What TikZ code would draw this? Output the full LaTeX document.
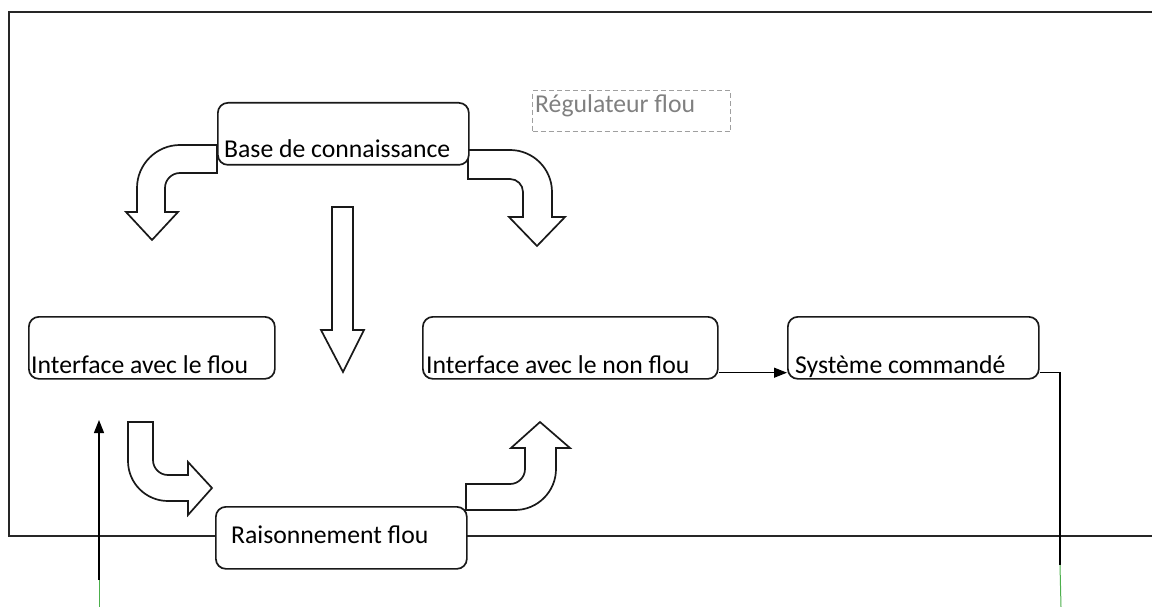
\documentclass[tikz,border=0pt]{standalone}
\usepackage{fontspec}
\setmainfont{Carlito}
\usetikzlibrary{arrows.meta}
\begin{document}
\begin{tikzpicture}[x=1pt,y=-1pt,
  box/.style={draw=black!90, line width=1.7pt, rounded corners=10pt, fill=white,
    minimum width=#1, minimum height=62pt, inner sep=0pt, anchor=north west},
  lbl/.style={anchor=base west, inner sep=0pt, font=\fontsize{25.7}{30}\selectfont},
  blockarrow/.style={draw=black!90, line width=1.7pt, fill=white, line join=miter},
  frame/.style={draw=black!85, line width=2pt},
  link/.style={draw=black, line width=1.4pt},
  feed/.style={draw=green!55!black!70, line width=1pt},
  tip/.style={-{Triangle[length=13pt,width=10pt]}}
]
\useasboundingbox (0,0) rectangle (1152,607);

% outer frame of the controller, open on the right
\draw[frame] (1152,12) -- (9,12) -- (9,536) -- (1152,536);

% block arrows
\draw[blockarrow] (217,145) -- (180,145) .. controls (156.3,145) and (137,164.3) .. (137,188)
  -- (137,212) -- (126,212) -- (152,240) -- (178,212) -- (165,212) -- (165,188)
  .. controls (165,179.7) and (171.7,173) .. (180,173) -- (217,173) -- cycle;
\draw[blockarrow] (468,150) -- (510,150) .. controls (533.2,150) and (552,168.8) .. (552,192)
  -- (552,217) -- (565,217) -- (537,246) -- (509,217) -- (523,217) -- (523,192)
  .. controls (523,184.8) and (517.2,179) .. (510,179) -- (468,179) -- cycle;
\draw[blockarrow] (332,207) -- (353,207) -- (353,330) -- (364,330) -- (343,372)
  -- (321,330) -- (332,330) -- cycle;
\draw[blockarrow] (128,422) -- (153,422) -- (153,460) .. controls (153,468.3) and (159.7,475) .. (168,475)
  -- (188,475) -- (188,462) -- (212,488) -- (188,515) -- (188,501) -- (168,501)
  .. controls (145.9,501) and (128,483.1) .. (128,461) -- cycle;
\draw[blockarrow] (466,484) -- (510,484) .. controls (518.3,484) and (525,477.3) .. (525,469)
  -- (525,448) -- (511,448) -- (540,422) -- (570,448) -- (556,448) -- (556,469)
  .. controls (556,491.6) and (537.6,510) .. (515,510) -- (466,510) -- cycle;

% boxes and their labels
\node[box=251] (base) at (217,102) {};
\node[lbl] (baset) at (224,158) {Base de connaissance};
\node[box=246] (ifl) at (28,316) {};
\node[lbl] (iflt) at (31,373) {Interface avec le flou};
\node[box=295] (inf) at (422,316) {};
\node[lbl] (inft) at (426,373) {Interface avec le non flou};
\node[box=251] (sys) at (787,316) {};
\node[lbl] (syst) at (795,373) {Système commandé};
\node[box=251] (rai) at (215,506) {};
\node[lbl] (rait) at (231,543) {Raisonnement flou};
\node[draw=gray!75, dashed, dash pattern=on 5pt off 3pt, line width=1.3pt,
  minimum width=198pt, minimum height=41pt, inner sep=0pt, anchor=north west] (reg) at (532,90) {};
\node[lbl, text=gray] (regt) at (535,113) {Régulateur flou};

% signal lines
\draw[link, tip] ([yshift=7pt]inf.south east) -- ([yshift=7pt]sys.south west);
\coordinate (outR) at (1060,565);
\coordinate (endR) at (1061,607);
\draw[link] ([yshift=7pt]sys.south east) -| (outR);
\draw[feed] (outR) -- (endR);
\coordinate (startL) at (99,607);
\coordinate (inL) at (99,580);
\coordinate (tipL) at (99,420);
\draw[feed] (startL) -- (inL);
\draw[link, tip] (inL) -- (tipL);
\end{tikzpicture}
\end{document}
